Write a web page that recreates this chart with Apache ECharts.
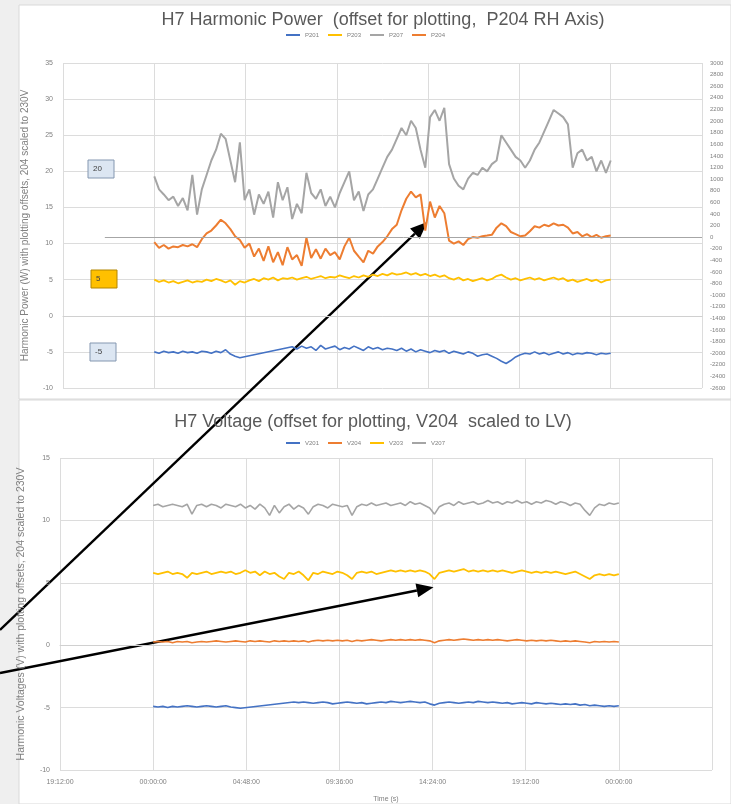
<!DOCTYPE html>
<html>
<head>
<meta charset="utf-8">
<script src="https://cdn.jsdelivr.net/npm/echarts@6/dist/echarts.min.js"></script>
<style>
  html, body { margin: 0; padding: 0; background: #efefef; }
  #chart { width: 731px; height: 804px; }
</style>
</head>
<body>
<div id="chart"></div>
<script>
// Sample times, hours from midnight (15-minute logging interval)
const hours = [
  0, 0.25, 0.5, 0.75, 1, 1.25, 1.5, 1.75, 2, 2.25,
  2.5, 2.75, 3, 3.25, 3.5, 3.75, 4, 4.25, 4.5, 4.75,
  5, 5.25, 5.5, 5.75, 6, 6.25, 6.5, 6.75, 7, 7.25,
  7.5, 7.75, 8, 8.25, 8.5, 8.75, 9, 9.25, 9.5, 9.75,
  10, 10.25, 10.5, 10.75, 11, 11.25, 11.5, 11.75, 12, 12.25,
  12.5, 12.75, 13, 13.25, 13.5, 13.75, 14, 14.25, 14.5, 14.75,
  15, 15.25, 15.5, 15.75, 16, 16.25, 16.5, 16.75, 17, 17.25,
  17.5, 17.75, 18, 18.25, 18.5, 18.75, 19, 19.25, 19.5, 19.75,
  20, 20.25, 20.5, 20.75, 21, 21.25, 21.5, 21.75, 22, 22.25,
  22.5, 22.75, 23, 23.25, 23.5, 23.75, 24
];

const xTickLabels = ['19:12:00', '00:00:00', '04:48:00', '09:36:00', '14:24:00', '19:12:00', '00:00:00'];

// ---- H7 harmonic power (W), offsets applied; P204 on the right-hand axis ----
const powerNames = ['P201', 'P203', 'P207', 'P204'];

const p201 = [
  -5.0, -5.2, -4.9, -5.1, -5.0, -5.2, -4.9, -5.1, -5.0, -5.2,
  -4.9, -5.0, -5.2, -4.9, -5.1, -4.7, -5.3, -5.6, -5.8, null,
  null, null, null, null, null, null, null, null, null, -4.3,
  -4.6, -4.2, -4.5, -4.3, -4.8, -4.1, -4.6, -4.4, -4.2, -4.7,
  -4.4, -4.6, -4.2, -4.5, -4.8, -4.3, -4.6, -4.4, -4.7, -4.5,
  -4.6, -4.8, -4.5, -4.9, -4.6, -5.0, -4.7, -4.9, -5.1, -4.8,
  -5.0, -4.8, -5.2, -4.9, -5.1, -5.3, -5.0, -5.2, -5.6, -5.4,
  -5.3, -5.6, -5.9, -6.3, -6.6, -6.2, -5.7, -5.4, -5.2, -5.3,
  -5.0, -5.3, -5.1, -5.4, -5.2, -5.0, -5.3, -5.1, -5.4, -5.2,
  -5.3, -5.1, -5.2, -5.4, -5.2, -5.3, -5.2
];

const p203 = [
  5.0, 4.7, 4.9, 4.6, 4.8, 4.5, 4.7, 4.9, 4.6, 4.8,
  4.7, 5.0, 4.8, 5.1, 4.9, 4.6, 4.9, 4.3, 4.8, 4.6,
  4.9, 5.1, 4.8, 5.2, 5.0, 5.3, 4.9, 5.2, 5.1, 5.3,
  5.0, 5.2, 5.4, 5.1, 5.3, 5.5, 5.2, 5.4, 5.3, 5.6,
  5.4, 5.2, 5.5, 5.3, 5.6, 5.4, 5.7, 5.5, 5.8, 5.6,
  5.9, 5.7, 5.8, 6.0, 5.7, 5.9, 5.6, 5.8, 5.5, 5.7,
  5.4, 5.6, 5.2, 5.0, 5.3, 4.9, 5.1, 4.8, 5.0, 5.2,
  4.9, 5.1, 5.5, 5.7, 5.3, 5.0, 5.2, 4.9, 5.1, 5.3,
  5.0, 5.2, 4.9, 5.1, 5.3, 5.0, 5.2, 4.8, 5.0, 4.7,
  4.9, 5.1, 4.8, 5.0, 4.6, 4.9, 5.0
];

const p207 = [
  19.3, 17.5, 16.8, 16.0, 16.5, 15.2, 16.3, 14.6, 19.5, 14.0,
  17.5, 19.5, 21.5, 23.0, 25.2, 24.5, 21.5, 18.5, 24.0, 16.0,
  17.5, 14.0, 16.8, 15.5, 17.2, 13.6, 18.5, 16.0, 17.8, 13.4,
  15.5, 14.2, 19.8, 17.0, 16.2, 17.5, 15.2, 16.5, 15.0, 17.0,
  18.5, 20.0, 16.0, 17.2, 14.5, 16.8, 17.5, 19.0, 20.5, 22.0,
  23.0, 24.5, 26.0, 25.0, 27.0, 26.0, 23.0, 20.5, 27.5, 28.5,
  27.0, 28.8, 21.0, 19.0, 18.0, 17.5, 19.0, 19.8, 19.5, 20.5,
  20.0, 21.0, 21.5, 25.0, 24.0, 23.0, 22.0, 21.5, 20.5, 21.5,
  23.0, 24.0, 25.5, 27.0, 28.5, 28.0, 27.5, 26.5, 20.5, 22.5,
  23.0, 21.5, 22.0, 20.0, 21.5, 19.8, 21.5
];

// P204 in W, read on the right-hand axis
const p204 = [
  -86, -185, -136, -198, -160, -173, -136, -160, -123, -173,
  -36, 63, 113, 200, 300, 238, 138, 14, -49, -185,
  -111, -335, -198, -409, -160, -434, -260, -484, -173, -384,
  -310, -496, -11, -360, -210, -372, -198, -310, -260, -384,
  -160, -11, -235, -335, -434, -235, -285, -160, -86, 14,
  138, 213, 462, 661, 785, 685, 735, 113, 611, 337,
  536, 412, -61, -111, -73, -136, -36, 1, -11, 14,
  26, 39, 163, 238, 188, 88, 51, 14, 26, 101,
  188, 163, 213, 188, 238, 200, 213, 163, 63, 88,
  14, 51, 1, 39, -11, 14, 26
];

// ---- H7 voltage (V), offsets applied; V204 scaled to LV ----
const voltNames = ['V201', 'V204', 'V203', 'V207'];

const v201 = [
  -4.9, -4.95, -4.9, -5.0, -4.9, -4.95, -4.9, -4.85, -4.9, -4.95,
  -4.9, -4.85, -4.9, -4.95, -4.9, -4.85, -4.95, -5.0, -5.05, null,
  null, null, null, null, null, null, null, null, null, -4.55,
  -4.6, -4.55, -4.6, -4.65, -4.6, -4.55, -4.6, -4.7, -4.65, -4.6,
  -4.55, -4.6, -4.65, -4.6, -4.7, -4.65, -4.6, -4.55, -4.6, -4.5,
  -4.55, -4.6, -4.55, -4.5, -4.55, -4.6, -4.55, -4.7, -4.8, -4.65,
  -4.6, -4.55, -4.6, -4.65, -4.6, -4.55, -4.6, -4.5, -4.55, -4.6,
  -4.55, -4.6, -4.65, -4.6, -4.7, -4.65, -4.6, -4.65, -4.7, -4.6,
  -4.65, -4.7, -4.65, -4.7, -4.75, -4.7, -4.75, -4.7, -4.8, -4.75,
  -4.85, -4.8, -4.85, -4.9, -4.85, -4.9, -4.85
];

const v204 = [
  0.25, 0.3, 0.25, 0.3, 0.2, 0.3, 0.25, 0.3, 0.2, 0.25,
  0.3, 0.25, 0.3, 0.35, 0.3, 0.25, 0.3, 0.35, 0.3, 0.25,
  0.35, 0.3, 0.35, 0.3, 0.25, 0.35, 0.3, 0.35, 0.3, 0.35,
  0.3, 0.35, 0.25, 0.35, 0.4, 0.35, 0.4, 0.35, 0.4, 0.35,
  0.4, 0.3, 0.4, 0.35, 0.4, 0.45, 0.4, 0.35, 0.4, 0.45,
  0.4, 0.45, 0.4, 0.45, 0.4, 0.45, 0.4, 0.35, 0.2, 0.35,
  0.4, 0.45, 0.4, 0.45, 0.5, 0.45, 0.4, 0.45, 0.4, 0.45,
  0.4, 0.45, 0.4, 0.35, 0.4, 0.45, 0.4, 0.35, 0.4, 0.35,
  0.4, 0.35, 0.4, 0.35, 0.3, 0.35, 0.3, 0.35, 0.3, 0.25,
  0.2, 0.3, 0.25, 0.3, 0.25, 0.3, 0.25
];

const v203 = [
  5.8, 5.7, 5.8, 5.9, 5.7, 5.8, 5.7, 5.4, 5.8, 5.7,
  5.8, 5.9, 5.7, 5.8, 5.9, 5.8, 5.9, 5.7, 5.8, 6.0,
  5.8, 5.9, 5.6, 5.9, 5.7, 5.8, 5.5, 5.3, 5.8, 5.7,
  5.9, 5.6, 5.2, 5.8, 5.7, 5.9, 5.8, 5.7, 5.9, 5.8,
  5.6, 5.3, 5.8, 5.9, 5.8, 5.9, 5.7, 5.8, 5.9, 6.0,
  5.9, 6.0, 5.9, 6.0, 5.9, 6.0, 5.9, 5.7, 5.3, 5.8,
  5.9, 6.0, 5.9, 6.0, 6.1, 5.9, 6.0, 5.9, 6.0, 5.9,
  6.0, 5.9, 6.0, 5.9, 5.8, 5.9, 6.0, 5.9, 5.8, 5.9,
  5.8, 5.9, 5.8, 5.9, 5.8, 5.7, 5.8, 5.9, 5.7, 5.5,
  5.3, 5.6, 5.7, 5.6, 5.7, 5.6, 5.7
];

const v207 = [
  11.2, 11.3, 11.1, 11.2, 11.3, 11.2, 11.1, 11.3, 10.5, 11.2,
  11.3, 11.1, 11.3, 11.2, 11.0, 11.3, 11.2, 11.1, 11.3, 11.0,
  11.2, 10.9, 11.3, 11.0, 10.4, 11.2, 10.6, 11.1, 11.3, 10.9,
  11.2, 11.0, 10.5, 11.1, 11.3, 11.2, 11.0, 11.3, 11.2, 11.1,
  11.2, 10.4, 11.1, 11.3, 11.2, 11.4, 11.2, 11.3, 11.4, 11.2,
  11.3, 11.4, 11.2, 11.5, 11.3, 11.4, 11.2, 11.0, 10.5, 11.1,
  11.3, 11.4, 11.2, 11.5, 11.3, 11.4, 11.5, 11.3, 11.4, 11.6,
  11.4, 11.5, 11.3, 11.5, 11.4, 11.6, 11.4, 11.5, 11.3, 11.5,
  11.4, 11.6, 11.5, 11.3, 11.5, 11.4, 11.2, 11.4, 11.3, 10.8,
  10.4, 11.0, 11.3, 11.2, 11.4, 11.3, 11.4
];

// ---- drawing ----
const BLUE = '#4472C4', ORANGE = '#ED7D31', GRAY = '#A5A5A5', GOLD = '#FFC000';
const X_MIN = -4.8, X_MAX = 28.8, X_STEP = 4.8;
const FONT = 'Liberation Sans';
const TXT = '#595959';
const AXT = '#808080';

const pairs = vals => hours.map((h, i) => [h, vals[i]]);

function xAxisDef(gridIndex, showLabels) {
  return {
    type: 'value', gridIndex, min: X_MIN, max: X_MAX, interval: X_STEP,
    axisLine: { show: true, lineStyle: { color: '#d0d0d0' } },
    axisTick: { show: false },
    splitLine: { show: true, lineStyle: { color: '#dcdcdc', width: 1 } },
    axisLabel: {
      show: showLabels, color: AXT, fontSize: 7, fontFamily: FONT, margin: 9,
      showMaxLabel: false,
      formatter: v => xTickLabels[Math.round((v - X_MIN) / X_STEP)] || ''
    }
  };
}

function lineSeries(name, data, color, xi, yi, width, extra) {
  return Object.assign({
    name, type: 'line', xAxisIndex: xi, yAxisIndex: yi,
    data: pairs(data), showSymbol: false, symbol: 'none',
    lineStyle: { color, width }, itemStyle: { color },
    connectNulls: true, silent: true, animation: false
  }, extra || {});
}

const chart = echarts.init(document.getElementById('chart'), null, { renderer: 'canvas' });

const option = {
  backgroundColor: '#efefef',
  animation: false,
  textStyle: { fontFamily: FONT },
  title: [
    { text: 'H7 Harmonic Power  (offset for plotting,  P204 RH Axis)', left: 378, top: 6, textAlign: 'center',
      textStyle: { fontSize: 18, fontWeight: 'normal', color: TXT, fontFamily: FONT } },
    { text: 'H7 Voltage (offset for plotting, V204  scaled to LV)', left: 368, top: 408, textAlign: 'center',
      textStyle: { fontSize: 18, fontWeight: 'normal', color: TXT, fontFamily: FONT } }
  ],
  legend: [
    { data: powerNames, top: 27, left: 'center', itemWidth: 14, itemHeight: 2, itemGap: 9, icon: 'rect',
      textStyle: { fontSize: 6, color: AXT } },
    { data: voltNames, top: 435, left: 'center', itemWidth: 14, itemHeight: 2, itemGap: 9, icon: 'rect',
      textStyle: { fontSize: 6, color: AXT } }
  ],
  grid: [
    { left: 63, right: 29, top: 63, height: 325 },
    { left: 60, right: 19, top: 458, height: 312 }
  ],
  xAxis: [
    xAxisDef(0, false),
    Object.assign(xAxisDef(1, true), {
      name: 'Time (s)', nameLocation: 'middle', nameGap: 26,
      nameTextStyle: { fontSize: 7, color: AXT }
    })
  ],
  yAxis: [
    { type: 'value', gridIndex: 0, min: -10, max: 35, interval: 5, position: 'left',
      name: 'Harmonic Power (W) with plotting offsets, 204 scaled to 230V',
      nameLocation: 'middle', nameGap: 33, nameTextStyle: { fontSize: 10, color: AXT },
      axisLine: { show: false }, axisTick: { show: false },
      axisLabel: { fontSize: 7, color: AXT, margin: 10 },
      splitLine: { lineStyle: { color: '#dcdcdc' } } },
    { type: 'value', gridIndex: 0, min: -2600, max: 3000, interval: 200, position: 'right',
      axisLine: { show: false }, axisTick: { show: false },
      axisLabel: { fontSize: 6, color: AXT, margin: 8, formatter: v => String(v) },
      splitLine: { show: false } },
    { type: 'value', gridIndex: 1, min: -10, max: 15, interval: 5,
      name: 'Harmonic Voltages (V) with plotting offsets, 204 scaled to 230V',
      nameLocation: 'middle', nameGap: 33, nameTextStyle: { fontSize: 10.5, color: AXT },
      axisLine: { show: false }, axisTick: { show: false },
      axisLabel: { fontSize: 7, color: AXT, margin: 10 },
      splitLine: { lineStyle: { color: '#dcdcdc' } } }
  ],
  series: [
    lineSeries('P201', p201, BLUE, 0, 0, 1.6),
    lineSeries('P203', p203, GOLD, 0, 0, 1.8),
    lineSeries('P207', p207, GRAY, 0, 0, 2),
    lineSeries('P204', p204, ORANGE, 0, 1, 2, {
      markLine: {
        silent: true, symbol: 'none', label: { show: false },
        lineStyle: { color: '#a6a6a6', width: 1, type: 'solid' },
        data: [[{ coord: [-2.6, 0] }, { coord: [X_MAX, 0] }]]
      }
    }),
    lineSeries('V201', v201, BLUE, 1, 2, 1.6),
    lineSeries('V204', v204, ORANGE, 1, 2, 1.6),
    lineSeries('V203', v203, GOLD, 1, 2, 1.8),
    lineSeries('V207', v207, GRAY, 1, 2, 1.6)
  ]
};

chart.setOption(option);

// Offset tags beside the traces, and the two callout arrows
function tag(x, y, w, h, label, fill, stroke) {
  return {
    type: 'group', z: 50, children: [
      { type: 'rect', shape: { x, y, width: w, height: h },
        style: { fill, stroke, lineWidth: 1 } },
      { type: 'text', x: x + 5, y: y + h / 2,
        style: { text: label, fontSize: 8, fill: '#404040', textVerticalAlign: 'middle', fontFamily: FONT } }
    ]
  };
}

function arrow(from, to) {
  const dx = to[0] - from[0], dy = to[1] - from[1];
  const len = Math.sqrt(dx * dx + dy * dy);
  const ux = dx / len, uy = dy / len;
  const headL = 17, headW = 7;
  const bx = to[0] - ux * headL, by = to[1] - uy * headL;
  return {
    type: 'group', z: 100, children: [
      { type: 'line', shape: { x1: from[0], y1: from[1], x2: bx, y2: by },
        style: { stroke: '#000', lineWidth: 2.4 } },
      { type: 'polygon', shape: { points: [
          [to[0], to[1]],
          [bx - uy * headW, by + ux * headW],
          [bx + uy * headW, by - ux * headW]
        ] }, style: { fill: '#000' } }
    ]
  };
}

const tipPower = chart.convertToPixel({ xAxisIndex: 0, yAxisIndex: 0 }, [14.35, 13.0]);
const tipVolt = chart.convertToPixel({ xAxisIndex: 1, yAxisIndex: 2 }, [14.45, 4.65]);

chart.setOption({
  graphic: [
    { type: 'rect', z: -100, silent: true, shape: { x: 19, y: 5, width: 712, height: 394 },
      style: { fill: '#ffffff', stroke: '#d9d9d9', lineWidth: 1 } },
    { type: 'rect', z: -100, silent: true, shape: { x: 19, y: 400, width: 712, height: 404 },
      style: { fill: '#ffffff', stroke: '#d9d9d9', lineWidth: 1 } },
    tag(88, 160, 26, 18, '20', '#dce6f2', '#8497b0'),
    tag(91, 270, 26, 18, '5', '#FFC000', '#b38600'),
    tag(90, 343, 26, 18, '-5', '#dce6f2', '#8497b0'),
    arrow([0, 630], tipPower),
    arrow([0, 673], tipVolt)
  ]
});
</script>
</body>
</html>
